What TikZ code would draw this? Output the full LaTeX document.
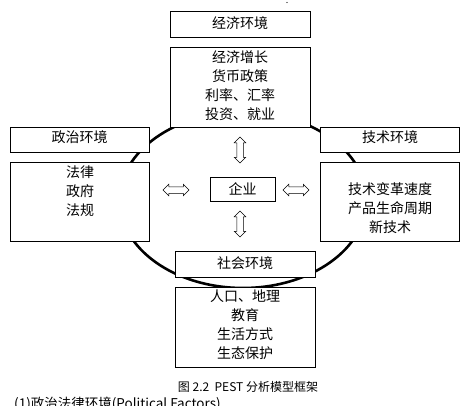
\documentclass[tikz,border=0pt]{standalone}
\usepackage{fontspec}
\setmainfont{Noto Sans CJK SC}
\usetikzlibrary{shapes.arrows}
\tikzset{
  box/.style={draw=black, line width=0.8pt, fill=white, inner sep=0pt},
  txt/.style={font=\fontsize{14}{19}\selectfont, align=center, inner sep=0pt, text=black},
  dbl/.style={double arrow, draw=black, line width=0.5pt, fill=white, inner xsep=0pt, inner ysep=3pt,
    minimum height=26pt, minimum width=11pt, double arrow head extend=2.5pt,
    double arrow head indent=0pt},
}
\begin{document}
\begin{tikzpicture}[x=1pt,y=-1pt]
\clip (0,0) rectangle (468,405);
\fill[white] (0,0) rectangle (468,405);
% background ring
\draw[line width=2.6pt] (243,200) ellipse [x radius=123.5, y radius=88];
% economic
\node[box, minimum width=140pt, minimum height=26pt] (econH) at (240,24) {};
\node[txt] (econHt) at (240,23) {经济环境};
\node[box, minimum width=140pt, minimum height=80pt] (econD) at (240,87) {};
\node[txt] (econDt) at (240,86) {经济增长\\货币政策\\利率、汇率\\投资、就业};
% political
\node[box, minimum width=139pt, minimum height=25pt] (polH) at (79.5,139.5) {};
\node[txt] (polHt) at (79.5,137) {政治环境};
\node[box, minimum width=139pt, minimum height=79pt] (polD) at (79.5,201.5) {};
\node[txt] (polDt) at (80,191) {法律\\政府\\法规};
% technology
\node[box, minimum width=139pt, minimum height=25pt] (tecH) at (389.5,139.5) {};
\node[txt] (tecHt) at (390,137) {技术环境};
\node[box, minimum width=139pt, minimum height=79pt] (tecD) at (389.5,201.5) {};
\node[txt] (tecDt) at (390,208) {技术变革速度\\产品生命周期\\新技术};
% firm
\node[box, minimum width=65pt, minimum height=24pt, txt, draw=black, line width=0.8pt] (firm) at (242.5,189) {企业};
% social
\node[box, minimum width=140pt, minimum height=26pt] (socH) at (245,264) {};
\node[txt] (socHt) at (245,263) {社会环境};
\node[box, minimum width=140pt, minimum height=80pt] (socD) at (245,327) {};
\node[txt] (socDt) at (245,324.5) {人口、地理\\教育\\生活方式\\生态保护};
% arrows
\node[dbl, rotate=90] (aTop) at (240,150) {};
\node[dbl, rotate=90] (aBot) at (240,224) {};
\node[dbl] (aLeft) at (176,190) {};
\node[dbl] (aRight) at (296,190) {};
% caption
\node[font=\fontsize{12}{14}\selectfont, inner sep=0pt] (cap) at (248,387) {图 2.2\ \ PEST 分析模型框架};
\node[font=\fontsize{13.5}{15}\selectfont, inner sep=0pt, anchor=west] (next) at (14,404.5) {(1)政治法律环境(Political Factors)};
\fill (287,2.5) circle (0.6pt);
\end{tikzpicture}
\end{document}
